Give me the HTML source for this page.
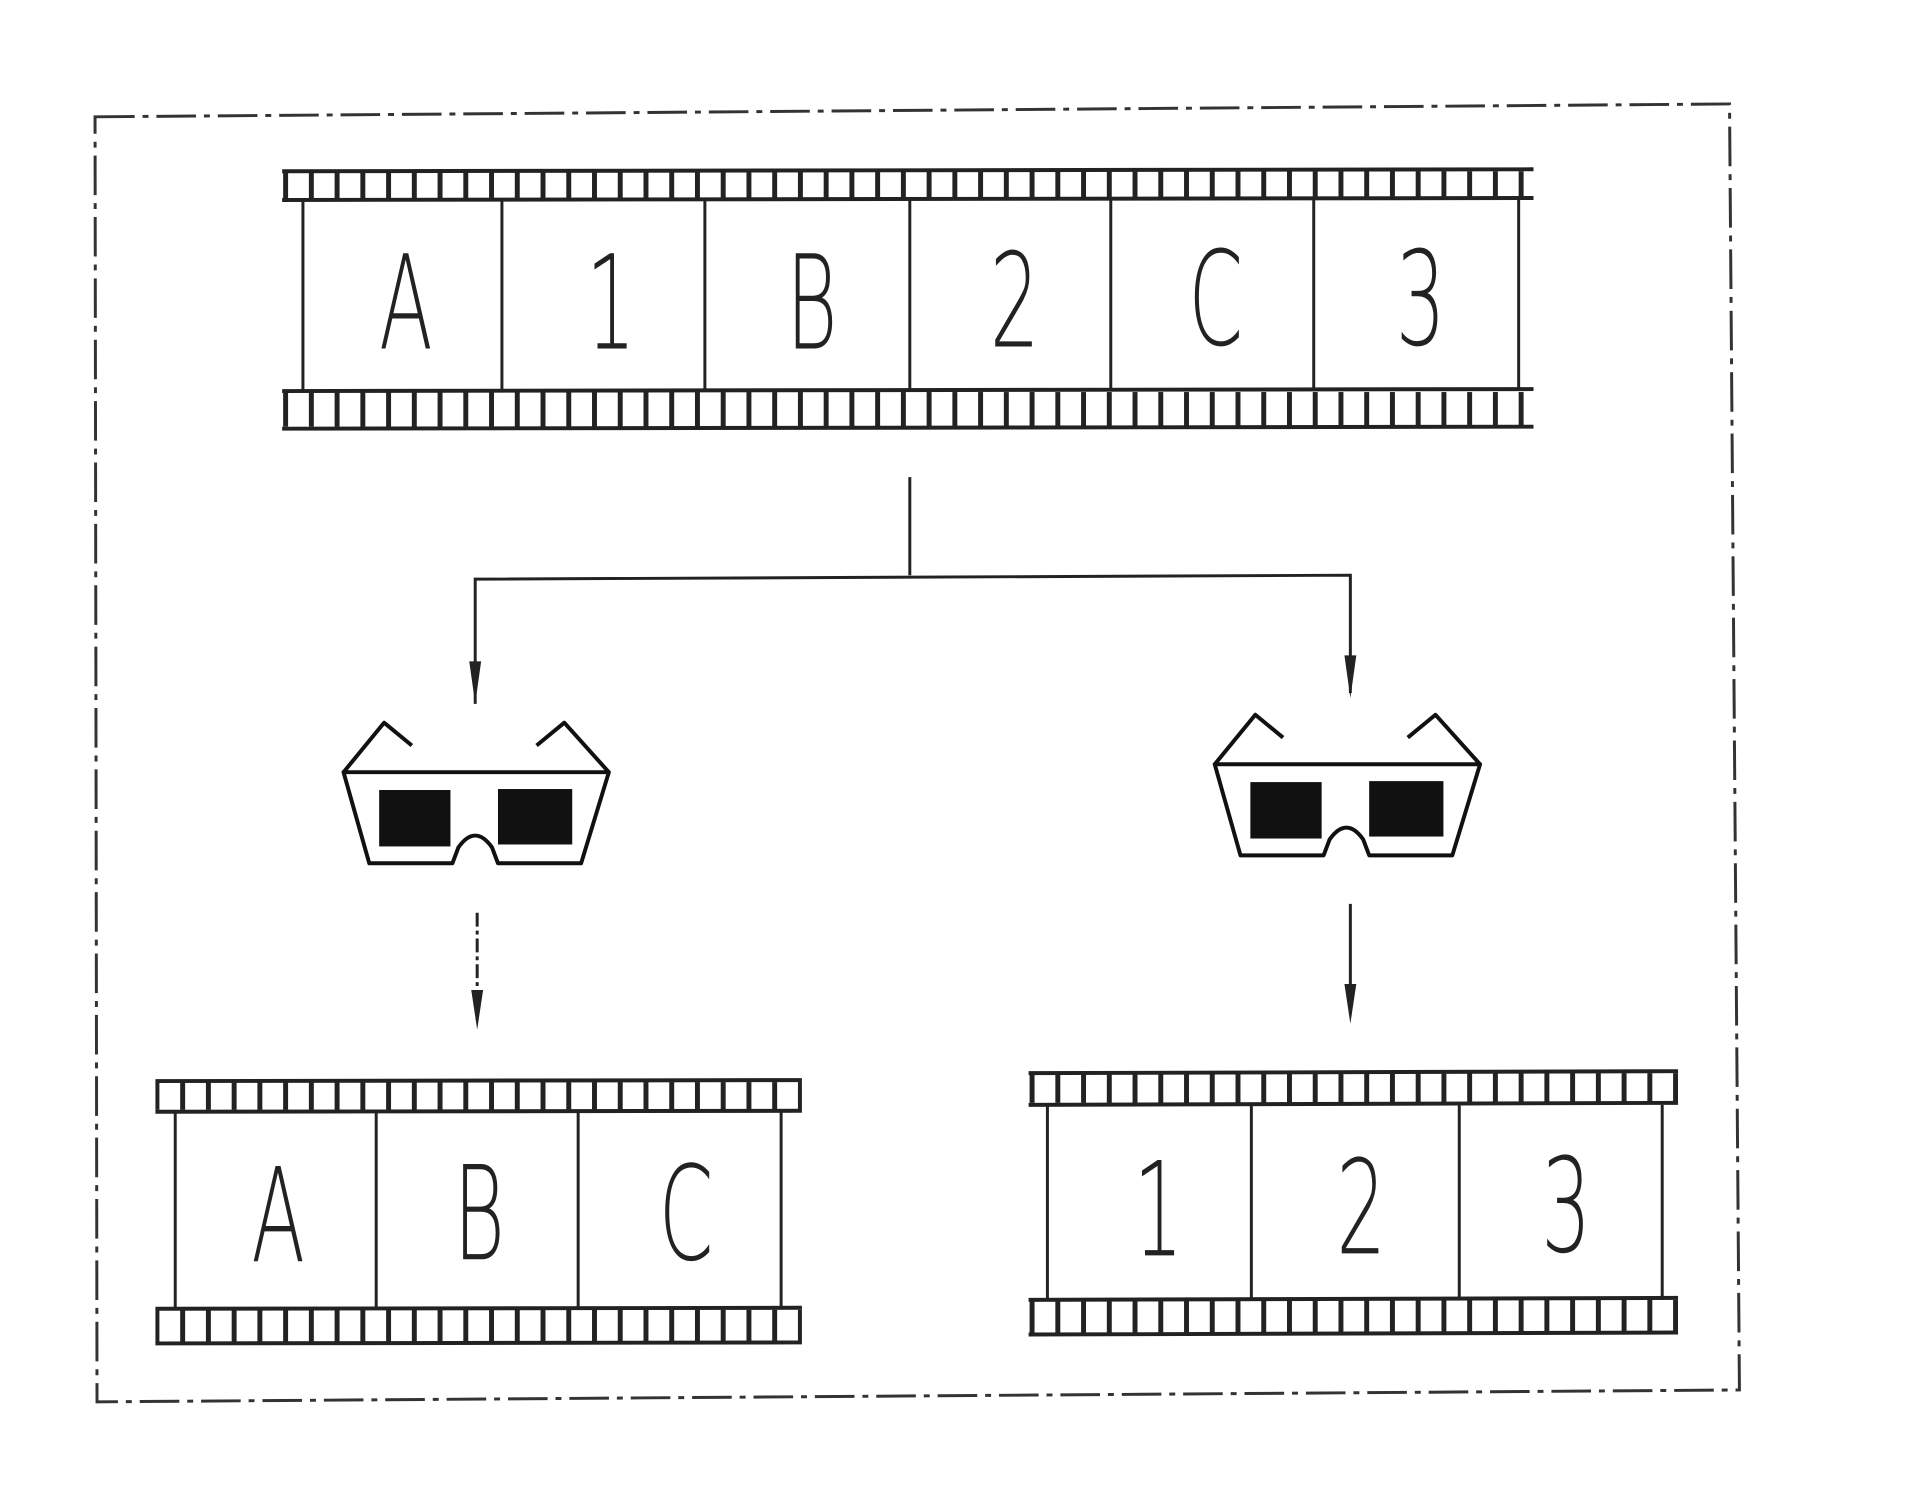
<!DOCTYPE html>
<html><head><meta charset="utf-8"><style>
html,body{margin:0;padding:0;background:#fff;}
svg{display:block;}
text{font-family:"DejaVu Sans","Liberation Sans",sans-serif;font-weight:200;fill:#222;}
</style></head><body>
<svg width="1920" height="1496" viewBox="0 0 1920 1496" xmlns="http://www.w3.org/2000/svg">
<defs>
<pattern id="sp" x="0" y="0" width="26" height="40" patternUnits="userSpaceOnUse">
<rect x="0" y="0" width="5" height="40" fill="#222"/>
</pattern>
<g id="glasses" fill="none" stroke="#111" stroke-width="4" stroke-linejoin="round">
<path d="M347 770 L615 770 L587 862 L503 862 L497 846 Q480 822 463 846 L457 862 L373 862 Z" fill="#fff"/>
<path d="M347 770 L388 720 L416 743"/>
<path d="M615 770 L570 720 L542 743"/>
<rect x="383" y="788" width="72" height="57" fill="#111" stroke="none"/>
<rect x="503" y="787" width="75" height="56" fill="#111" stroke="none"/>
</g>
</defs>
<g transform="scale(0.99)">
<path d="M96 118 L1747 105 L1757 1404 L98 1416 Z" fill="none" stroke="#333" stroke-width="3" stroke-dasharray="40 8 6 8"/>

<g stroke="#222" fill="none">
<rect x="285" y="173" width="1264" height="28" fill="url(#sp)" stroke="none"/>
<line x1="285" y1="173" x2="1549" y2="171" stroke-width="4"/>
<line x1="285" y1="202" x2="1549" y2="200" stroke-width="4"/>
<rect x="285" y="396" width="1264" height="35" fill="url(#sp)" stroke="none"/>
<line x1="285" y1="395" x2="1549" y2="393" stroke-width="4"/>
<line x1="285" y1="433" x2="1549" y2="431" stroke-width="4"/>
<g stroke-width="3">
<line x1="306" y1="202" x2="306" y2="395"/>
<line x1="507" y1="202" x2="507" y2="395"/>
<line x1="712" y1="202" x2="712" y2="395"/>
<line x1="919" y1="202" x2="919" y2="395"/>
<line x1="1122" y1="202" x2="1122" y2="395"/>
<line x1="1327" y1="202" x2="1327" y2="395"/>
<line x1="1534" y1="202" x2="1534" y2="395"/>
</g>
</g>
<g font-size="132" text-anchor="middle">
<text transform="translate(410,352) scale(0.6,1)">A</text>
<text transform="translate(617,352) scale(0.6,1)">1</text>
<text transform="translate(820,352) scale(0.6,1)">B</text>
<text transform="translate(1025,350) scale(0.6,1)">2</text>
<text transform="translate(1228,348) scale(0.6,1)">C</text>
<text transform="translate(1435,348) scale(0.6,1)">3</text>
</g>

<g stroke="#222" stroke-width="3" fill="none">
<line x1="919" y1="482" x2="919" y2="581"/>
<polyline points="480,711 480,585 1364,581 1364,700"/>
<line x1="482" y1="922" x2="482" y2="1030" stroke-dasharray="14 4 4 4"/>
<line x1="1364" y1="913" x2="1364" y2="1024"/>
</g>
<g fill="#222">
<polygon points="474,668 486,668 480,711"/>
<polygon points="1358,662 1370,662 1364,705"/>
<polygon points="476,1000 488,1000 482,1040"/>
<polygon points="1358,994 1370,994 1364,1034"/>
</g>

<use href="#glasses" transform="translate(0,10)"/>
<use href="#glasses" transform="translate(880,2)"/>

<g stroke="#222" fill="none">
<rect x="157" y="1093" width="653" height="28" fill="url(#sp)" stroke="none"/>
<line x1="157" y1="1092" x2="810" y2="1091" stroke-width="4"/>
<line x1="157" y1="1123" x2="810" y2="1122" stroke-width="4"/>
<rect x="157" y="1323" width="653" height="33" fill="url(#sp)" stroke="none"/>
<line x1="157" y1="1322" x2="810" y2="1321" stroke-width="4"/>
<line x1="157" y1="1357" x2="810" y2="1356" stroke-width="4"/>
<g stroke-width="3">
<line x1="177" y1="1123" x2="177" y2="1322"/>
<line x1="380" y1="1123" x2="380" y2="1322"/>
<line x1="584" y1="1123" x2="584" y2="1322"/>
<line x1="789" y1="1123" x2="789" y2="1322"/>
</g>
</g>
<g stroke="#222" fill="none">
<rect x="1039" y="1084" width="656" height="30" fill="url(#sp)" stroke="none"/>
<line x1="1039" y1="1084" x2="1695" y2="1082" stroke-width="4"/>
<line x1="1039" y1="1116" x2="1695" y2="1114" stroke-width="4"/>
<rect x="1039" y="1313" width="656" height="33" fill="url(#sp)" stroke="none"/>
<line x1="1039" y1="1313" x2="1695" y2="1311" stroke-width="4"/>
<line x1="1039" y1="1348" x2="1695" y2="1346" stroke-width="4"/>
<g stroke-width="3">
<line x1="1058" y1="1116" x2="1058" y2="1313"/>
<line x1="1264" y1="1116" x2="1264" y2="1313"/>
<line x1="1474" y1="1116" x2="1474" y2="1313"/>
<line x1="1679" y1="1116" x2="1679" y2="1313"/>
</g>
</g>
<g font-size="132" text-anchor="middle">
<text transform="translate(281,1274) scale(0.6,1)">A</text>
<text transform="translate(484,1272) scale(0.6,1)">B</text>
<text transform="translate(693,1272) scale(0.6,1)">C</text>
<text transform="translate(1170,1268) scale(0.6,1)">1</text>
<text transform="translate(1375,1266) scale(0.6,1)">2</text>
<text transform="translate(1582,1264) scale(0.6,1)">3</text>
</g>
</g>
</svg>
</body></html>
